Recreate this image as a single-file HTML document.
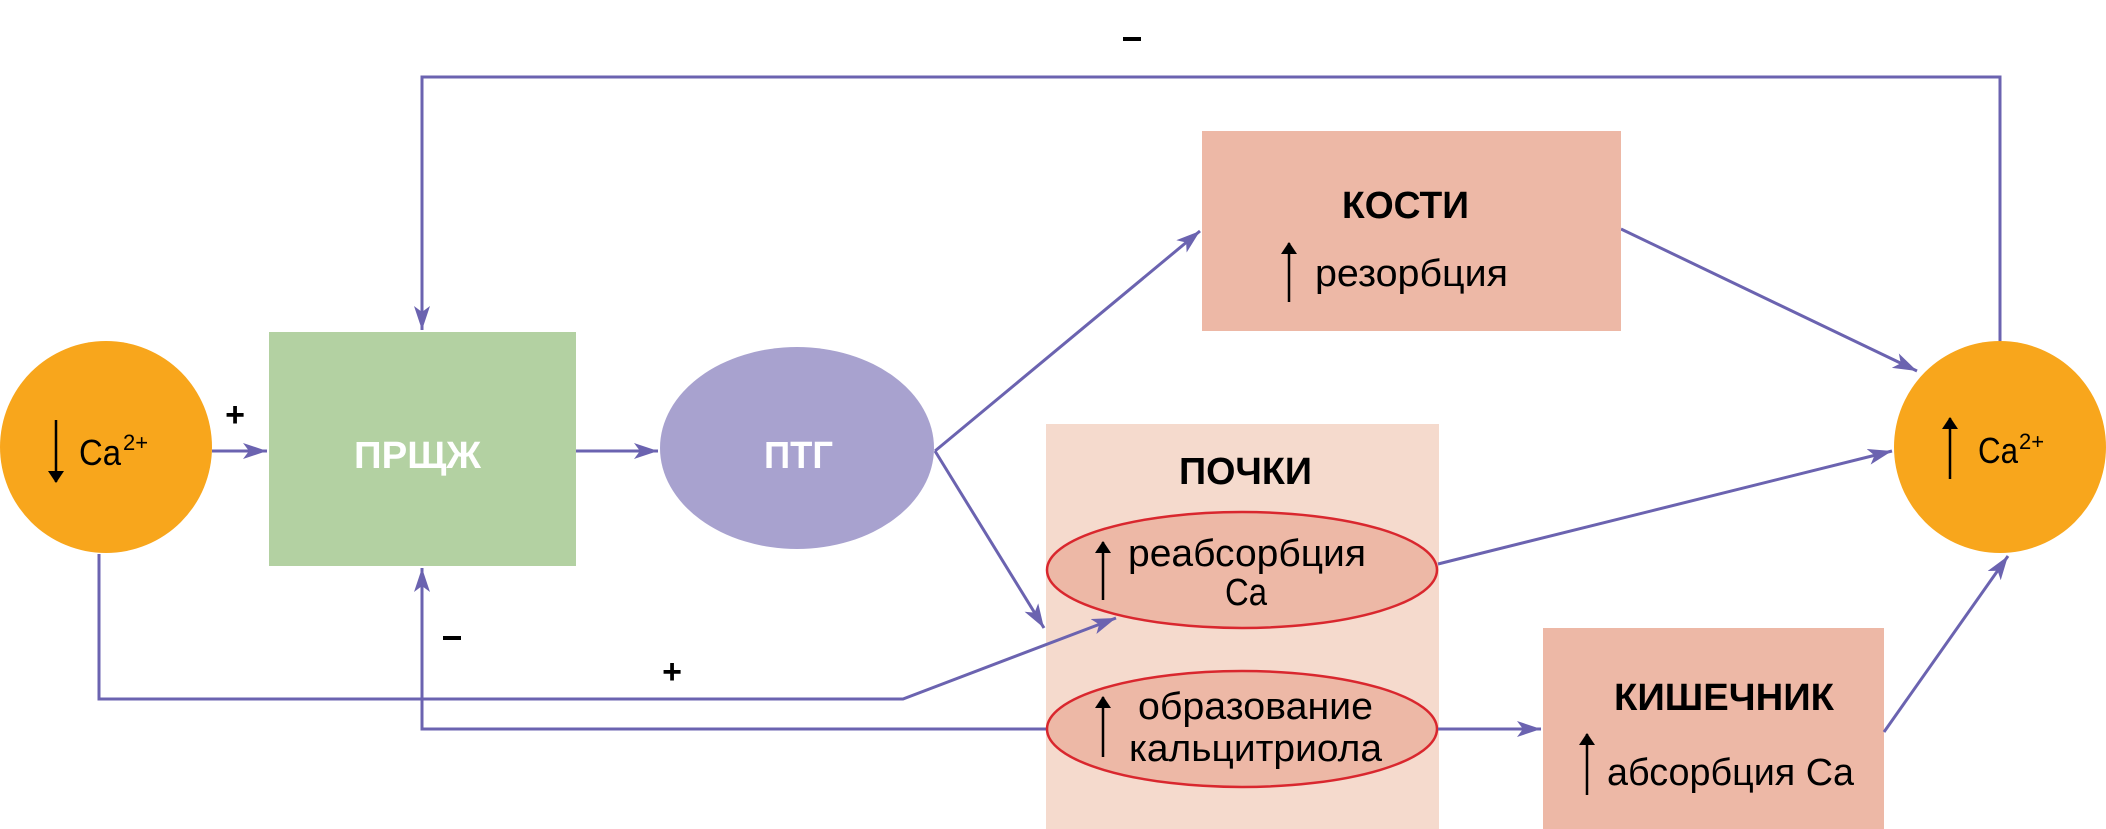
<!DOCTYPE html>
<html><head><meta charset="utf-8"><style>html,body{margin:0;padding:0;background:#fff}svg{display:block}text{font-family:"Liberation Sans",sans-serif}</style></head><body>
<svg width="2106" height="829" viewBox="0 0 2106 829" xmlns="http://www.w3.org/2000/svg">
<defs>
<marker id="a" markerWidth="26" markerHeight="16" refX="24" refY="8" orient="auto" markerUnits="userSpaceOnUse"><path d="M0,0 L24,8 L0,16 L6,8 Z" fill="#6B63B0"/></marker>
<marker id="b" markerWidth="12" markerHeight="16" refX="11" refY="8" orient="auto" markerUnits="userSpaceOnUse"><path d="M0,0 L12,8 L0,16 Z" fill="#000"/></marker>
</defs>
<g fill="none" stroke="#6B63B0" stroke-width="3">
<polyline points="2000,341 2000,77 422,77 422,330" marker-end="url(#a)"/>
<line x1="212" y1="451" x2="267" y2="451" marker-end="url(#a)"/>
<line x1="576" y1="451" x2="658" y2="451" marker-end="url(#a)"/>
<line x1="935" y1="451" x2="1200" y2="231" marker-end="url(#a)"/>
<line x1="935" y1="451" x2="1044" y2="628" marker-end="url(#a)"/>
<line x1="1621" y1="229" x2="1917" y2="371" marker-end="url(#a)"/>
<polyline points="1047,729 422,729 422,568" marker-end="url(#a)"/>
</g>
<rect x="269" y="332" width="307" height="234" fill="#B3D1A2"/>
<ellipse cx="797" cy="448" rx="137" ry="101" fill="#A8A2CF"/>
<circle cx="106" cy="447" r="106" fill="#F8A61C"/>
<circle cx="2000" cy="447" r="106" fill="#F8A61C"/>
<rect x="1202" y="131" width="419" height="200" fill="#EDB8A6"/>
<rect x="1046" y="424" width="393" height="405" fill="#F5DACD"/>
<rect x="1543" y="628" width="341" height="201" fill="#EDB8A6"/>
<ellipse cx="1242" cy="570" rx="195" ry="58" fill="#EDB8A6" stroke="#D9272E" stroke-width="2.5"/>
<ellipse cx="1242" cy="729" rx="195" ry="58" fill="#EDB8A6" stroke="#D9272E" stroke-width="2.5"/>
<g fill="none" stroke="#6B63B0" stroke-width="3">
<polyline points="99,554 99,699 903,699 1116,618" marker-end="url(#a)"/>
<line x1="1438" y1="564" x2="1892" y2="451" marker-end="url(#a)"/>
<line x1="1438" y1="729" x2="1541" y2="729" marker-end="url(#a)"/>
<line x1="1884" y1="732" x2="2008" y2="556" marker-end="url(#a)"/>
</g>
<g stroke="#000" stroke-width="2.5">
<line x1="56" y1="420" x2="56" y2="482" marker-end="url(#b)"/>
<line x1="1950" y1="479" x2="1950" y2="418" marker-end="url(#b)"/>
<line x1="1289" y1="302" x2="1289" y2="243" marker-end="url(#b)"/>
<line x1="1103" y1="600" x2="1103" y2="542" marker-end="url(#b)"/>
<line x1="1103" y1="757" x2="1103" y2="697" marker-end="url(#b)"/>
<line x1="1587" y1="795" x2="1587" y2="734" marker-end="url(#b)"/>
</g>
<g font-size="38" fill="#000">
<text x="79" y="465" font-size="36" textLength="42" lengthAdjust="spacingAndGlyphs">Ca</text><text x="123" y="450" font-size="22">2+</text>
<text x="1978" y="463" font-size="36" textLength="40" lengthAdjust="spacingAndGlyphs">Ca</text><text x="2019" y="449" font-size="22">2+</text>
<text x="1315" y="286" textLength="193" lengthAdjust="spacingAndGlyphs">резорбция</text>
<text x="1128" y="566" textLength="238" lengthAdjust="spacingAndGlyphs">реабсорбция</text>
<text x="1246" y="605" text-anchor="middle" textLength="42" lengthAdjust="spacingAndGlyphs">Ca</text>
<text x="1138" y="719" textLength="235" lengthAdjust="spacingAndGlyphs">образование</text>
<text x="1129" y="761" textLength="253" lengthAdjust="spacingAndGlyphs">кальцитриола</text>
<text x="1607" y="785" textLength="247" lengthAdjust="spacingAndGlyphs">абсорбция Ca</text>
</g>
<g font-weight="bold" font-size="38">
<text x="354" y="468" fill="#fff" textLength="127" lengthAdjust="spacingAndGlyphs">ПРЩЖ</text>
<text x="764" y="468" fill="#fff" textLength="69" lengthAdjust="spacingAndGlyphs">ПТГ</text>
<text x="1342" y="218" textLength="127" lengthAdjust="spacingAndGlyphs">КОСТИ</text>
<text x="1179" y="484" textLength="133" lengthAdjust="spacingAndGlyphs">ПОЧКИ</text>
<text x="1614" y="710" textLength="220" lengthAdjust="spacingAndGlyphs">КИШЕЧНИК</text>
<text x="235" y="426" text-anchor="middle" font-size="34">+</text>
<text x="672" y="683" text-anchor="middle" font-size="34">+</text>
</g>
<rect x="443" y="636" width="18" height="4" fill="#000"/>
<rect x="1123" y="37" width="18" height="4" fill="#000"/>
</svg>
</body></html>
